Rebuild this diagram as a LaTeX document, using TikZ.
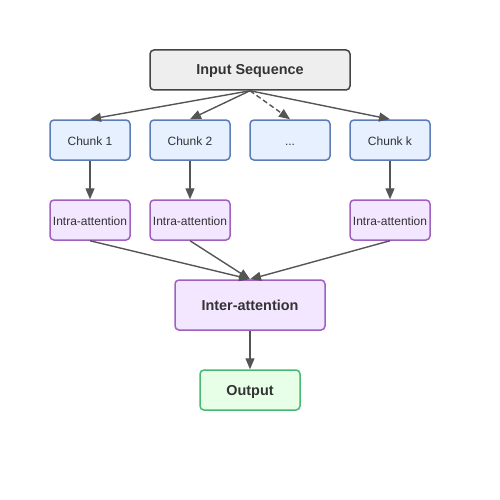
\documentclass[tikz,border=0pt]{standalone}
\usepackage{fontspec}
\setmainfont{Liberation Sans}
\usetikzlibrary{arrows.meta, positioning}
\definecolor{inpfill}{RGB}{238, 238, 238}
\definecolor{inpdraw}{RGB}{68, 68, 68}
\definecolor{chunkfill}{RGB}{230, 240, 255}
\definecolor{chunkdraw}{RGB}{92, 124, 184}
\definecolor{attnfill}{RGB}{243, 230, 255}
\definecolor{attndraw}{RGB}{160, 96, 192}
\definecolor{outfill}{RGB}{230, 255, 230}
\definecolor{outdraw}{RGB}{72, 184, 116}
\definecolor{txtcol}{RGB}{51, 51, 51}
\definecolor{arrcol}{RGB}{85, 85, 85}

\begin{document}
\begin{tikzpicture}[
        x=1pt, y=-1pt,
        box/.style={draw, rounded corners=4pt, line width=1.5pt, text=txtcol, align=center, inner sep=0pt, text height=1em, text depth=0pt},
        chunk/.style={box, fill=chunkfill, draw=chunkdraw, minimum width=80pt, minimum height=40pt, font=\fontsize{12}{14}\selectfont},
        intra/.style={box, fill=attnfill, draw=attndraw, minimum width=80pt, minimum height=40pt, font=\fontsize{12}{14}\selectfont},
        arrow/.style={-{Triangle[length=11pt, width=9pt]}, line width=1.4pt, draw=arrcol}
    ]
        \useasboundingbox (0, 0) rectangle (500, 500);

        % Input
        \node[box, fill=inpfill, draw=inpdraw, minimum width=200pt, minimum height=40pt, font=\bfseries\fontsize{14.4}{16}\selectfont] (inp) at (250, 70) {Input Sequence};

        % Chunks
        \node[chunk] (c1) at (90, 140) {Chunk 1};
        \node[chunk] (c2) at (190, 140) {Chunk 2};
        \node[chunk] (cd) at (290, 140) {...};
        \node[chunk] (ck) at (390, 140) {Chunk k};

        % Intra-attention
        \node[intra] (a1) at (90, 220) {Intra-attention};
        \node[intra] (a2) at (190, 220) {Intra-attention};
        \node[intra] (ak) at (390, 220) {Intra-attention};

        % Inter-attention and output
        \node[box, fill=attnfill, draw=attndraw, minimum width=150pt, minimum height=50pt, font=\bfseries\fontsize{14.4}{16}\selectfont] (inter) at (250, 305) {Inter-attention};
        \node[box, fill=outfill, draw=outdraw, minimum width=100pt, minimum height=40pt, font=\bfseries\fontsize{14.4}{16}\selectfont] (out) at (250, 390) {Output};

        % Arrows
        \draw[arrow] (inp.south) -- (c1.north);
        \draw[arrow] (inp.south) -- (c2.north);
        \draw[arrow, dash pattern=on 5pt off 3pt] (inp.south) -- (cd.north);
        \draw[arrow] (inp.south) -- (ck.north);

        \draw[arrow] (c1) -- (a1);
        \draw[arrow] (c2) -- (a2);
        \draw[arrow] (ck) -- (ak);

        \draw[arrow] (a1.south) -- (inter.north);
        \draw[arrow] (a2.south) -- (inter.north);
        \draw[arrow] (ak.south) -- (inter.north);

        \draw[arrow] (inter) -- (out);
    \end{tikzpicture}
\end{document}
